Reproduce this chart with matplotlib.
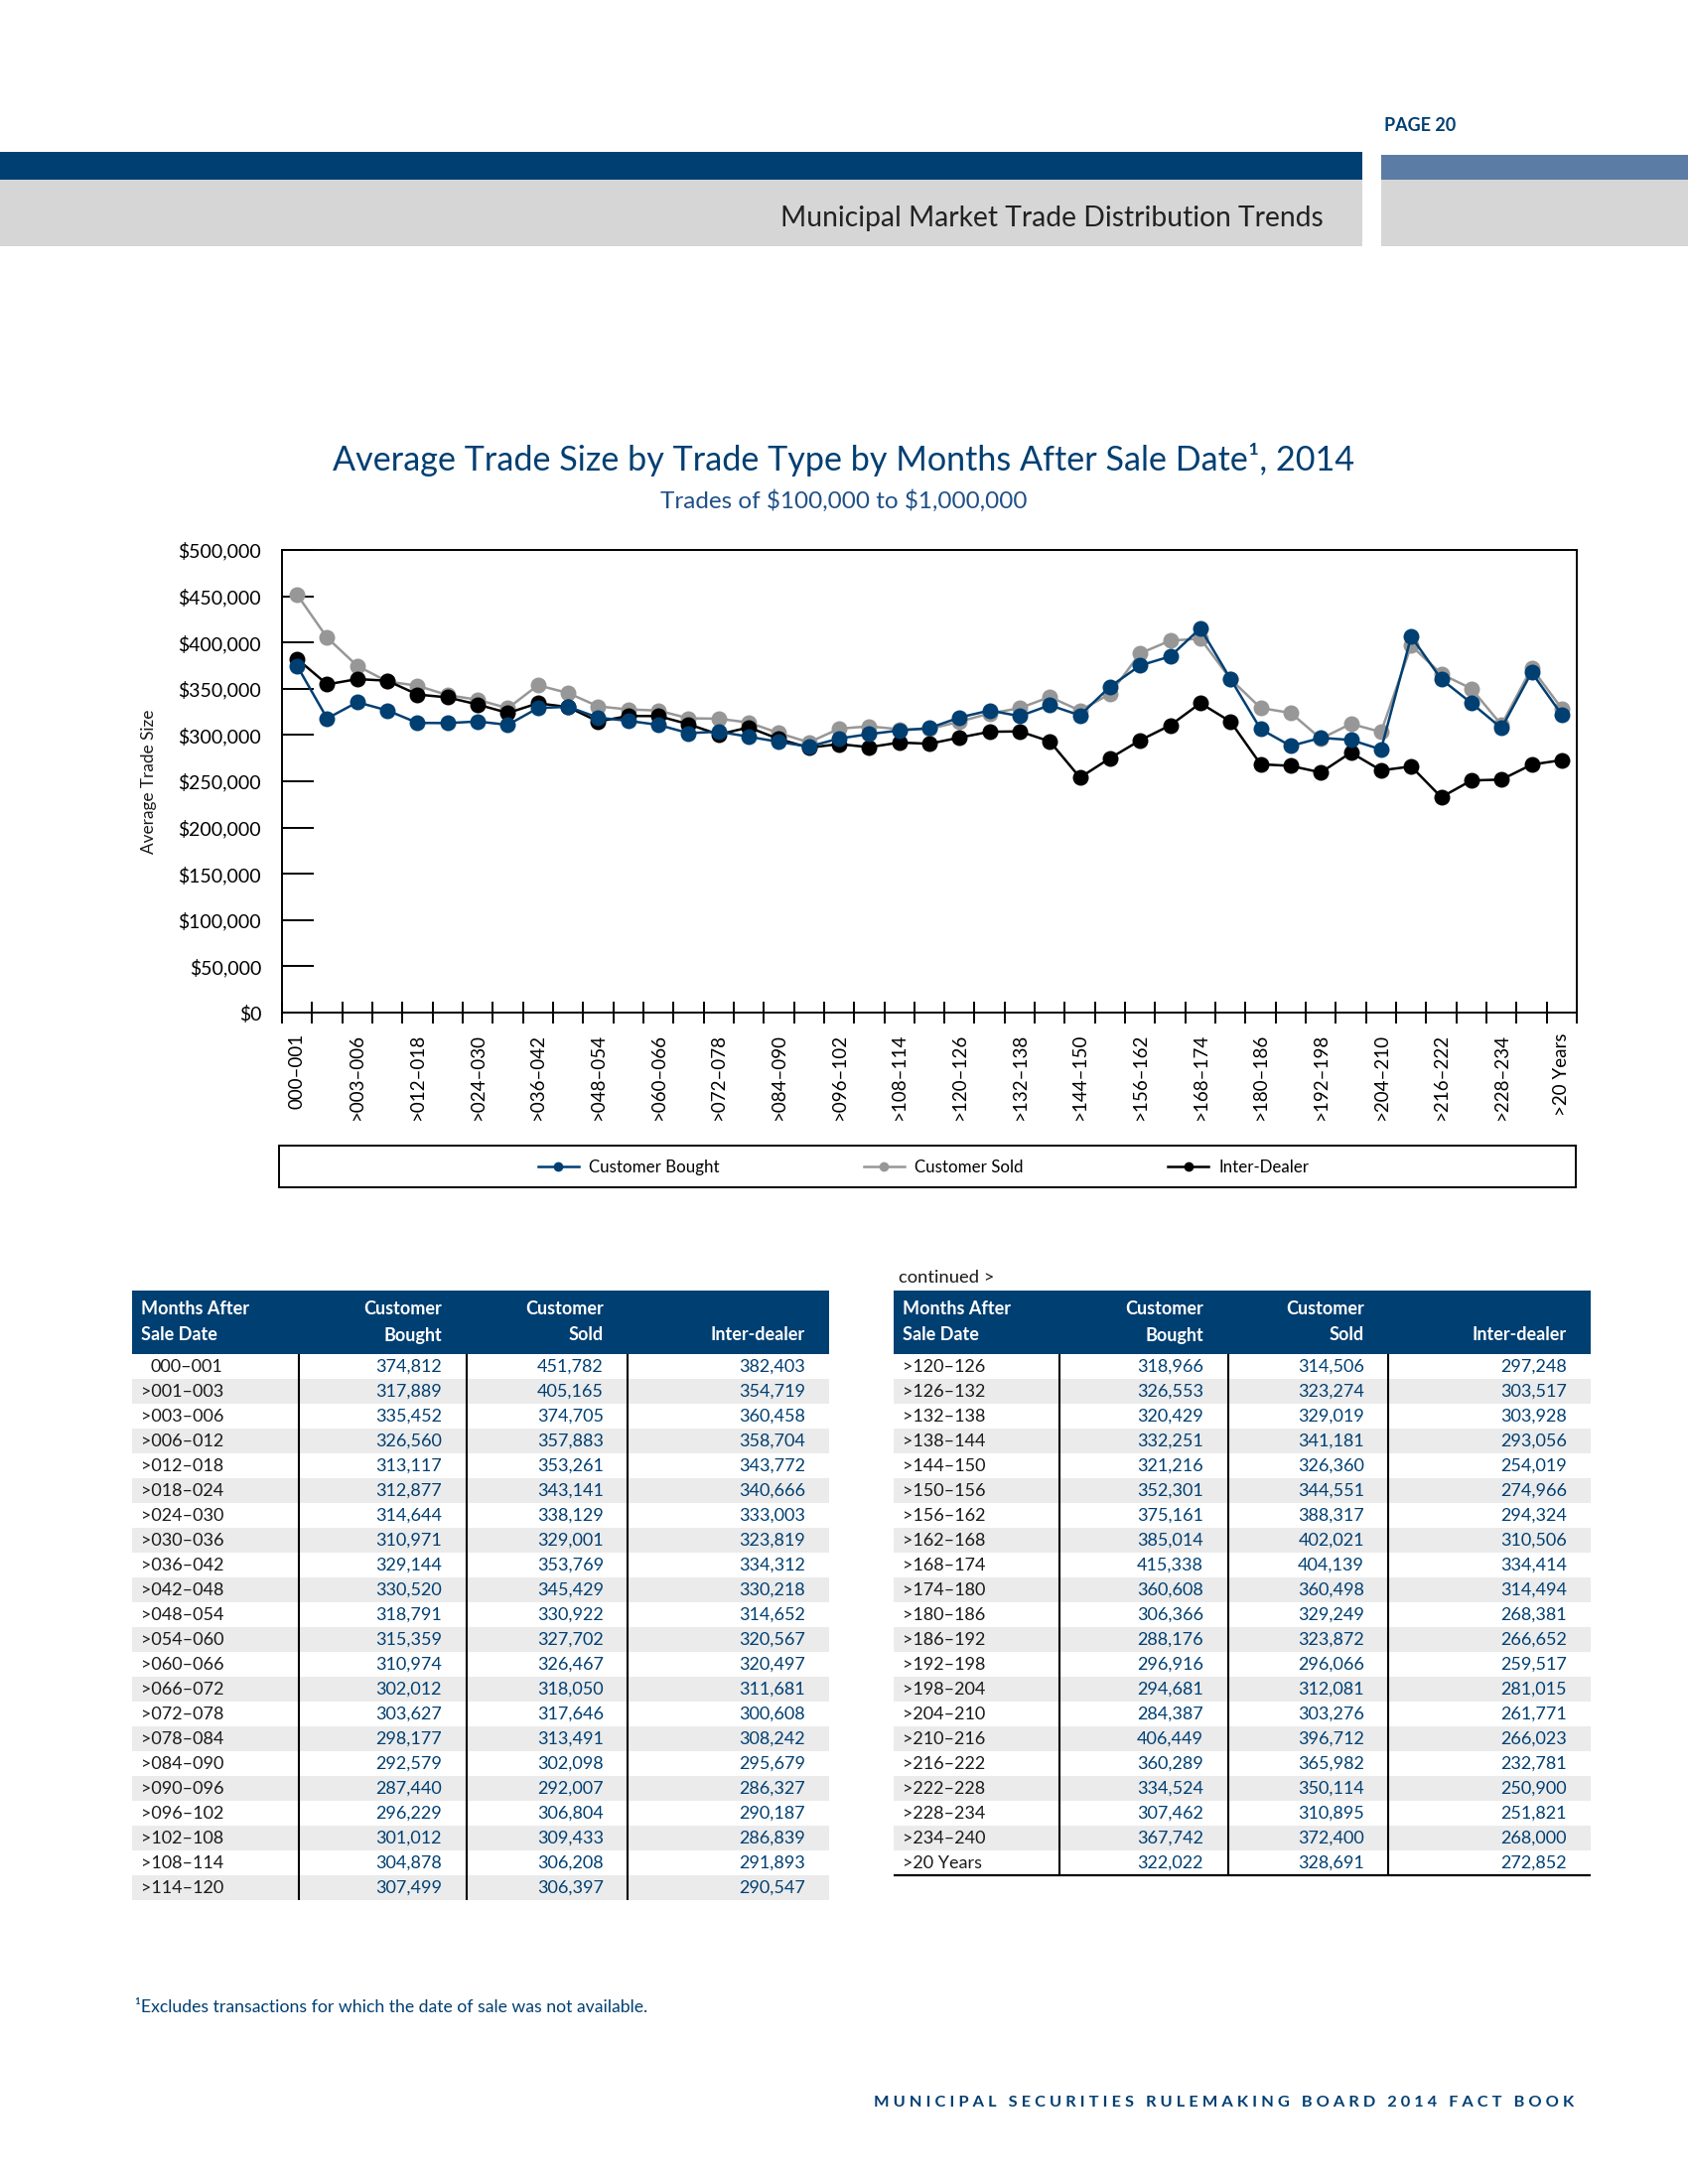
import matplotlib
matplotlib.use('Agg')
import matplotlib.pyplot as plt
import matplotlib.ticker as mticker
from matplotlib.patches import Rectangle
from matplotlib.lines import Line2D
import numpy as np

plt.rcParams['font.family'] = ['Lato', 'DejaVu Sans']

categories = ["000–001", ">001–003", ">003–006", ">006–012", ">012–018", ">018–024",
              ">024–030", ">030–036", ">036–042", ">042–048", ">048–054", ">054–060",
              ">060–066", ">066–072", ">072–078", ">078–084", ">084–090", ">090–096",
              ">096–102", ">102–108", ">108–114", ">114–120", ">120–126", ">126–132",
              ">132–138", ">138–144", ">144–150", ">150–156", ">156–162", ">162–168",
              ">168–174", ">174–180", ">180–186", ">186–192", ">192–198", ">198–204",
              ">204–210", ">210–216", ">216–222", ">222–228", ">228–234", ">234–240",
              ">20 Years"]

customer_bought = [374812, 317889, 335452, 326560, 313117, 312877, 314644, 310971, 329144,
                   330520, 318791, 315359, 310974, 302012, 303627, 298177, 292579, 287440,
                   296229, 301012, 304878, 307499, 318966, 326553, 320429, 332251, 321216,
                   352301, 375161, 385014, 415338, 360608, 306366, 288176, 296916, 294681,
                   284387, 406449, 360289, 334524, 307462, 367742, 322022]

customer_sold = [451782, 405165, 374705, 357883, 353261, 343141, 338129, 329001, 353769,
                 345429, 330922, 327702, 326467, 318050, 317646, 313491, 302098, 292007,
                 306804, 309433, 306208, 306397, 314506, 323274, 329019, 341181, 326360,
                 344551, 388317, 402021, 404139, 360498, 329249, 323872, 296066, 312081,
                 303276, 396712, 365982, 350114, 310895, 372400, 328691]

inter_dealer = [382403, 354719, 360458, 358704, 343772, 340666, 333003, 323819, 334312,
                330218, 314652, 320567, 320497, 311681, 300608, 308242, 295679, 286327,
                290187, 286839, 291893, 290547, 297248, 303517, 303928, 293056, 254019,
                274966, 294324, 310506, 334414, 314494, 268381, 266652, 259517, 281015,
                261771, 266023, 232781, 250900, 251821, 268000, 272852]

series_names = ["Customer Bought", "Customer Sold", "Inter-Dealer"]
y_ticks = list(range(0, 500001, 50000))

NAVY = '#003f72'
GRAY_LINE = '#979797'
W, H = 1700, 2200

fig = plt.figure(figsize=(17, 22), dpi=100)
fig.patch.set_facecolor('white')

bg = fig.add_axes([0, 0, 1, 1])
bg.set_xlim(0, W)
bg.set_ylim(H, 0)
bg.axis('off')

# ---- page header ----
bg.add_patch(Rectangle((0, 153), 1372, 28, color=NAVY, lw=0))
bg.add_patch(Rectangle((1391, 156), 309, 25, color='#5b7ca4', lw=0))
bg.add_patch(Rectangle((0, 181), 1372, 67, color='#d6d6d6', lw=0))
bg.add_patch(Rectangle((1391, 181), 309, 67, color='#d6d6d6', lw=0))
bg.text(1394, 127, "PAGE 20", fontsize=13, fontweight='bold', color=NAVY, ha='left', va='center')
bg.text(1333, 220, "Municipal Market Trade Distribution Trends", fontsize=20.3,
        color='#222222', ha='right', va='center')

# ---- chart titles ----
bg.text(850, 463, "Average Trade Size by Trade Type by Months After Sale Date¹, 2014",
        fontsize=24.6, color=NAVY, ha='center', va='center')
bg.text(850, 505, "Trades of \\$100,000 to \\$1,000,000", fontsize=17.5, color='#1f5088',
        ha='center', va='center')

# ---- chart ----
ax_l, ax_r, ax_t, ax_b = 284, 1588, 554, 1020
ax = fig.add_axes([ax_l / W, 1 - ax_b / H, (ax_r - ax_l) / W, (ax_b - ax_t) / H])
x = np.arange(len(categories))
ax.plot(x, customer_sold, color=GRAY_LINE, marker='o', ms=11.5, lw=1.8, mew=0, zorder=2,
        clip_on=False)
ax.plot(x, inter_dealer, color='black', marker='o', ms=11.5, lw=1.8, mew=0, zorder=3,
        clip_on=False)
ax.plot(x, customer_bought, color=NAVY, marker='o', ms=11.5, lw=1.8, mew=0, zorder=4,
        clip_on=False)

ax.set_xlim(-0.5, len(categories) - 0.5)
ax.set_ylim(0, 500000)
ax.set_yticks(y_ticks)
ax.yaxis.set_major_formatter(mticker.FuncFormatter(lambda v, p: f"\\${int(v):,}"))
ax.tick_params(axis='y', direction='in', length=23, width=1.4, pad=15, labelsize=14,
               colors='black')
ax.set_xticks(np.arange(-0.5, len(categories), 1.0))
ax.set_xticklabels([])
ax.set_xticks(x[::2], minor=True)
ax.set_xticklabels(categories[::2], minor=True, rotation=90, fontsize=13.5)
ax.tick_params(axis='x', which='major', direction='inout', length=16, width=1.4)
ax.tick_params(axis='x', which='minor', length=0, pad=15)
for s in ax.spines.values():
    s.set_linewidth(1.4)
ax.set_ylabel("Average Trade Size", fontsize=12.4, color='#1a1a1a')
ax.yaxis.set_label_coords(-0.097, 0.5)

# ---- legend ----
bg.add_patch(Rectangle((281, 1154), 1306, 42, fill=False, edgecolor='black', lw=1.4))
handles = [Line2D([], [], color=NAVY, marker='o', ms=7, lw=1.8, mew=0),
           Line2D([], [], color=GRAY_LINE, marker='o', ms=7, lw=1.8, mew=0),
           Line2D([], [], color='black', marker='o', ms=7, lw=1.8, mew=0)]
fig.legend(handles, series_names, loc='center', bbox_to_anchor=(930 / W, 1 - 1176 / H),
           ncol=3, frameon=False, fontsize=12.2, handlelength=2.4, handletextpad=0.6,
           columnspacing=8.6)

# ---- tables ----
TABLE_FS = 13
ROW_H = 25
HDR_T, HDR_B = 1300, 1364


def draw_table(x0, x1, seps, rights, lab_x, rows, b, s, d, bottom_line):
    bg.add_patch(Rectangle((x0, HDR_T), x1 - x0, HDR_B - HDR_T, color=NAVY, lw=0))
    hk = dict(fontsize=TABLE_FS, fontweight='bold', color='white', va='center')
    bg.text(lab_x, 1319, "Months After", ha='left', **hk)
    bg.text(lab_x, 1345, "Sale Date", ha='left', **hk)
    bg.text(rights[0], 1319, "Customer", ha='right', **hk)
    bg.text(rights[0], 1345, "Bought", ha='right', **hk)
    bg.text(rights[1], 1319, "Customer", ha='right', **hk)
    bg.text(rights[1], 1345, "Sold", ha='right', **hk)
    bg.text(rights[2], 1345, "Inter-dealer", ha='right', **hk)
    n = len(rows)
    for i in range(n):
        y0 = HDR_B + i * ROW_H
        if i % 2 == 1:
            bg.add_patch(Rectangle((x0, y0), x1 - x0, ROW_H, color='#ebebeb', lw=0))
        yc = y0 + ROW_H / 2 + 0.5
        lx = lab_x if rows[i].startswith('>') else lab_x + 10
        bg.text(lx, yc, rows[i], fontsize=TABLE_FS, color='#1a1a1a', ha='left', va='center')
        for rx, val in zip(rights, (b[i], s[i], d[i])):
            bg.text(rx, yc, f"{val:,}", fontsize=TABLE_FS, color=NAVY, ha='right', va='center')
    yb = HDR_B + n * ROW_H
    for sx in seps:
        bg.plot([sx, sx], [HDR_B, yb], color='black', lw=1.5, solid_capstyle='butt')
    if bottom_line:
        bg.plot([x0, x1], [yb, yb], color='black', lw=1.6, solid_capstyle='butt')


split = 22
draw_table(133, 835, [301, 470, 632], [445, 608, 811], 142,
           categories[:split], customer_bought[:split], customer_sold[:split],
           inter_dealer[:split], False)
bg.text(905, 1287, "continued >", fontsize=13.2, color='#1a1a1a', ha='left', va='center')
draw_table(900, 1602, [1067, 1237, 1398], [1212, 1374, 1578], 909,
           categories[split:], customer_bought[split:], customer_sold[split:],
           inter_dealer[split:], True)

# ---- footnote & footer ----
bg.text(136, 2022, "¹Excludes transactions for which the date of sale was not available.",
        fontsize=12.7, color=NAVY, ha='left', va='center')
footer = "MUNICIPAL SECURITIES RULEMAKING BOARD 2014 FACT BOOK"
footer_spaced = "   ".join(" ".join(w) for w in footer.split(" "))
bg.text(1585, 2118, footer_spaced, fontsize=11.8, fontweight='bold', color=NAVY,
        ha='right', va='center')

fig.savefig('out.png', dpi=100, facecolor='white')
